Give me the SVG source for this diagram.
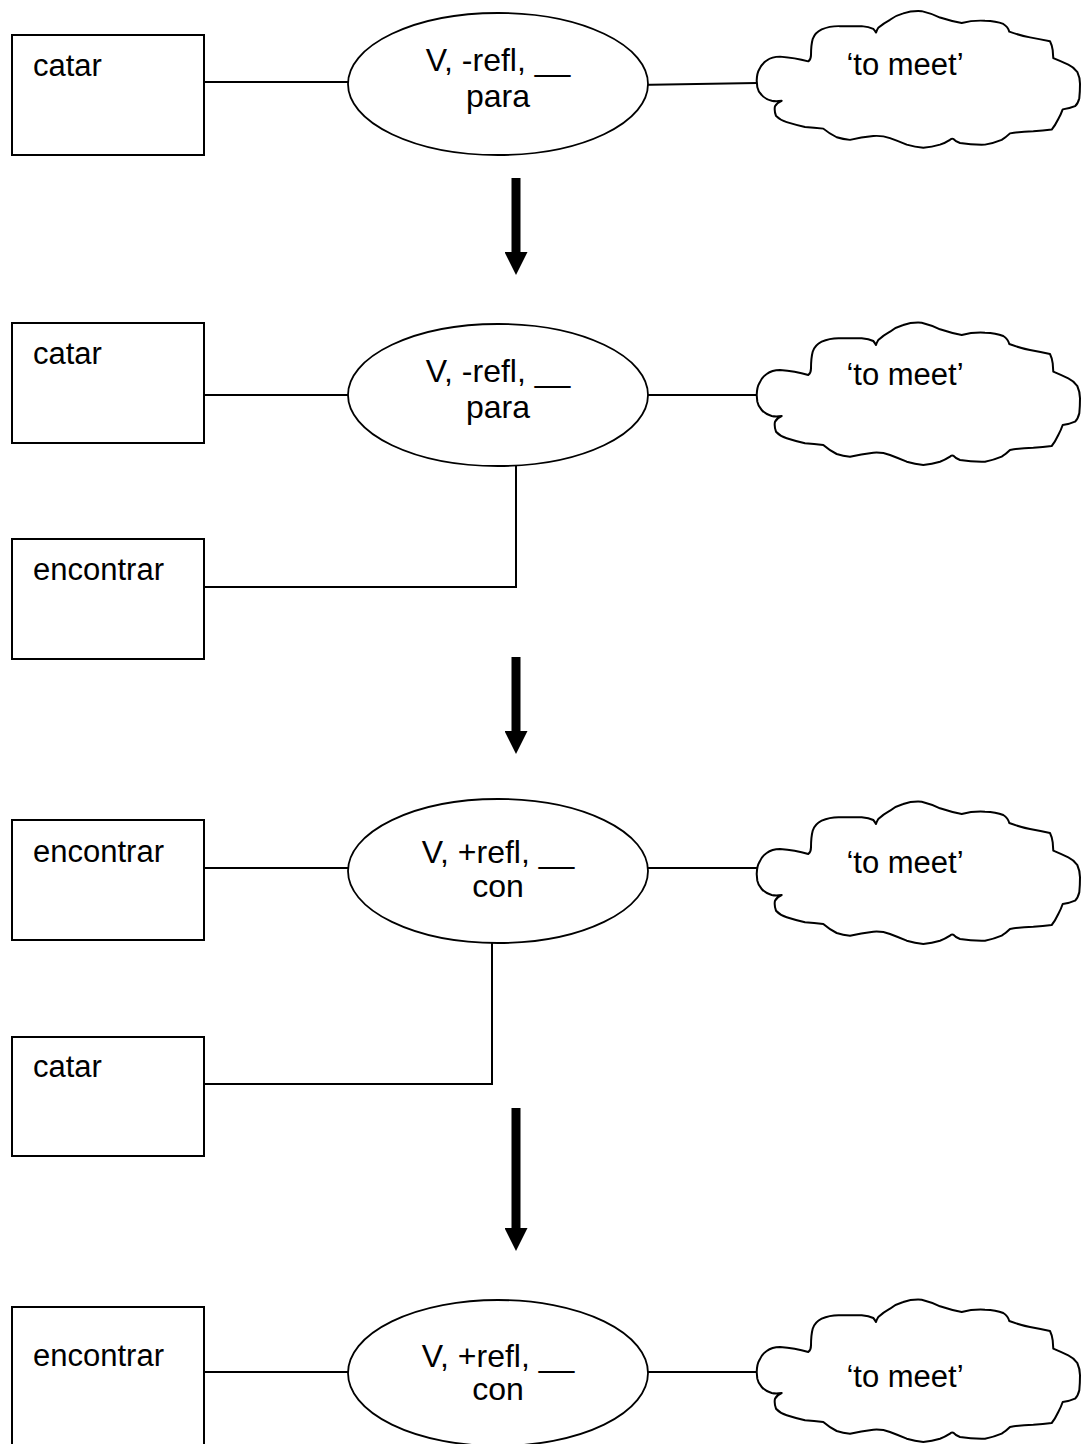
<svg xmlns="http://www.w3.org/2000/svg" width="1081" height="1444" viewBox="0 0 1081 1444">
<style>
.box{fill:#fff;stroke:#000;stroke-width:2}
.ell{fill:#fff;stroke:#000;stroke-width:1.8}
.cloud{fill:#fff;stroke:#000;stroke-width:2;stroke-linejoin:round}
.ln{fill:none;stroke:#000;stroke-width:2}
.arr{fill:none;stroke:#000;stroke-width:9;marker-end:url(#head)}
text{font-family:"Liberation Sans",Arial,sans-serif;font-size:31px;fill:#000}
.c{text-anchor:middle}
.e{font-size:32px}
</style>
<defs>
<marker id="head" viewBox="0 0 23 23" markerUnits="userSpaceOnUse" markerWidth="23" markerHeight="23" refX="0" refY="11.5" orient="auto">
<path d="M0,0 L23,11.5 L0,23 Z" fill="#000"/>
</marker>
<path id="cl" class="cloud" d="M16.7,85 Q17,77 19.3,73.3 Q22,67 26.7,64 Q32,60 40,60 Q55,61 68.3,65 Q71,63 71,58.3 Q71,48 72.7,41.7 Q75,35 81.7,31.7 Q90,28 100,28.3 L121.7,28.3 Q129,29 133.3,31 Q135,33 136,35 Q137,32 138.3,30 Q144,25 150,21.7 Q156,17 163.3,15 Q172,12 181.7,12.7 Q191,15 200,19.3 Q211,23 221.7,25 Q233,22 245,22.7 Q256,23 263.3,26 Q268,29 269.3,34 Q280,38 290,40 Q301,42 310,44 Q312,48 312.7,53.3 Q313,58 313.3,61.7 Q321,65 328.3,68.3 Q334,71 337.3,76 Q340,82 340,88.3 Q340,97 339.3,103.3 Q338,109 335,111.7 Q330,114 322.7,115 Q321,120 318.3,125 Q315,132 311.7,136 Q303,137 293.3,137.7 Q280,138 270,140 Q266,144 261.7,146.7 Q254,150 245,151.7 Q232,152 220,150 Q215,148 213.3,145.7 Q211,145 210,146.7 Q205,150 200,151.7 Q192,154 183.3,155 Q175,154 166.7,151.7 Q158,148 150,145 Q142,142 133.3,142.7 Q121,144 110,146.7 Q103,146 96.7,144 Q89,140 83.3,135 Q74,134 65,133.3 Q55,131 46.7,128.3 Q40,126 36,121.7 Q34,116 35,111.7 Q37,108 41.7,106 Q36,107 31.7,106 Q25,104 21.7,100 Q18,96 17.3,91.7 Z"/>
</defs>

<g id="connectors">
<line class="ln" x1="204" y1="82" x2="348" y2="82"/>
<line class="ln" x1="636" y1="85" x2="757" y2="83"/>
<line class="arr" x1="516" y1="178" x2="516" y2="252"/>

<line class="ln" x1="204" y1="395" x2="348" y2="395"/>
<line class="ln" x1="648" y1="395" x2="757" y2="395"/>
<polyline class="ln" points="516,465 516,587 204,587"/>
<line class="arr" x1="516" y1="657" x2="516" y2="731"/>

<line class="ln" x1="204" y1="868" x2="348" y2="868"/>
<line class="ln" x1="648" y1="868" x2="757" y2="868"/>
<polyline class="ln" points="492,942 492,1084 204,1084"/>
<line class="arr" x1="516" y1="1108" x2="516" y2="1228"/>

<line class="ln" x1="204" y1="1372" x2="348" y2="1372"/>
<line class="ln" x1="648" y1="1372" x2="757" y2="1372"/>
</g>

<g id="n1-catar"><rect class="box" x="12" y="35" width="192" height="120"/><text x="33" y="76">catar</text></g>
<g id="n1-sem"><ellipse class="ell" cx="498" cy="84" rx="150" ry="71"/><text class="c e" x="498" y="71">V, -refl, __</text><text class="c e" x="498" y="107">para</text></g>
<g id="n1-meet"><use href="#cl" transform="translate(740,-1) scale(1,0.96)"/><text class="c" x="905" y="75">‘to meet’</text></g>

<g id="n2-catar"><rect class="box" x="12" y="323" width="192" height="120"/><text x="33" y="364">catar</text></g>
<g id="n2-sem"><ellipse class="ell" cx="498" cy="395" rx="150" ry="71"/><text class="c e" x="498" y="382">V, -refl, __</text><text class="c e" x="498" y="418">para</text></g>
<g id="n2-meet"><use href="#cl" transform="translate(740,310)"/><text class="c" x="905" y="385">‘to meet’</text></g>
<g id="n2-encontrar"><rect class="box" x="12" y="539" width="192" height="120"/><text x="33" y="580">encontrar</text></g>

<g id="n3-encontrar"><rect class="box" x="12" y="820" width="192" height="120"/><text x="33" y="862">encontrar</text></g>
<g id="n3-sem"><ellipse class="ell" cx="498" cy="871" rx="150" ry="72"/><text class="c e" x="498" y="863">V, +refl, __</text><text class="c e" x="498" y="897">con</text></g>
<g id="n3-meet"><use href="#cl" transform="translate(740,789)"/><text class="c" x="905" y="873">‘to meet’</text></g>
<g id="n3-catar"><rect class="box" x="12" y="1037" width="192" height="119"/><text x="33" y="1077">catar</text></g>

<g id="n4-encontrar"><rect class="box" x="12" y="1307" width="192" height="140"/><text x="33" y="1366">encontrar</text></g>
<g id="n4-sem"><ellipse class="ell" cx="498" cy="1373" rx="150" ry="73"/><text class="c e" x="498" y="1367">V, +refl, __</text><text class="c e" x="498" y="1400">con</text></g>
<g id="n4-meet"><use href="#cl" transform="translate(740,1287)"/><text class="c" x="905" y="1387">‘to meet’</text></g>
</svg>
